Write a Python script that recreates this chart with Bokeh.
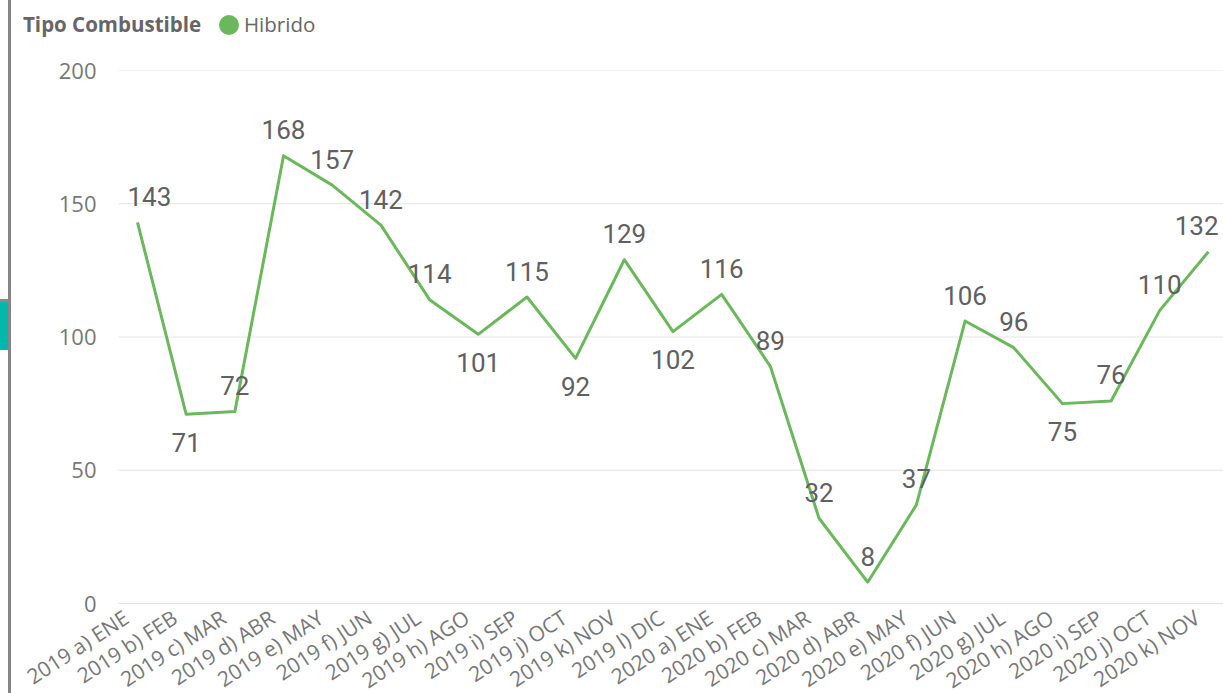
import math
from bokeh.plotting import figure
from bokeh.models import Range1d, FixedTicker, ColumnDataSource, Div
from bokeh.layouts import column, row
from bokeh.embed import file_html
from bokeh.resources import INLINE
from bokeh.core.properties import value

# ---------------- data ----------------
categories = ["2019 a) ENE", "2019 b) FEB", "2019 c) MAR", "2019 d) ABR", "2019 e) MAY",
              "2019 f) JUN", "2019 g) JUL", "2019 h) AGO", "2019 i) SEP", "2019 j) OCT",
              "2019 k) NOV", "2019 l) DIC", "2020 a) ENE", "2020 b) FEB", "2020 c) MAR",
              "2020 d) ABR", "2020 e) MAY", "2020 f) JUN", "2020 g) JUL", "2020 h) AGO",
              "2020 i) SEP", "2020 j) OCT", "2020 k) NOV"]
hibrido = [143, 71, 72, 168, 157, 142, 114, 101, 115, 92, 129, 102, 116, 89, 32, 8, 37,
           106, 96, 75, 76, 110, 132]
y_ticks = [0, 50, 100, 150, 200]
series_name = "Hibrido"
legend_title = "Tipo Combustible"

# ---------------- layout constants ----------------
PAGE_W, PAGE_H = 1223, 693
SIDE_W = 12           # left decoration strip
LEG_H = 45            # legend strip height
W = PAGE_W - SIDE_W
H = PAGE_H - LEG_H
FRAME_TOP = 25
FRAME_H = H - FRAME_TOP
PX_X = 48.68          # px per category step
FIRST_OFF = 125       # px from canvas left to first point
GRID_LEFT = 106       # px from canvas left where grid lines start
YLABEL_RIGHT = 84     # px from canvas left where y labels end
PX_Y = 2.665          # px per value unit
ZERO_FROM_BOTTOM = 90 # px between the zero line and the canvas bottom

x_start = -FIRST_OFF / PX_X
x_end = x_start + W / PX_X
y_start = -ZERO_FROM_BOTTOM / PX_Y
y_end = y_start + FRAME_H / PX_Y
grid_x0 = x_start + GRID_LEFT / PX_X

GREEN = "#6bb85c"
TXT = "#777777"
LBL = "#606060"

p = figure(width=W, height=H, output_backend="svg", toolbar_location=None,
           x_range=Range1d(x_start, x_end), y_range=Range1d(y_start, y_end),
           min_border_left=0, min_border_right=0, min_border_top=FRAME_TOP,
           min_border_bottom=0)
p.outline_line_color = None
p.background_fill_color = "white"
p.border_fill_color = "white"

xs = list(range(len(categories)))

# y axis: labels drawn inside the canvas area, to the left of the grid
p.yaxis.ticker = FixedTicker(ticks=y_ticks)
p.yaxis.axis_line_color = None
p.yaxis.major_tick_line_color = None
p.yaxis.minor_tick_line_color = None
p.yaxis.major_tick_out = 0
p.yaxis.major_tick_in = 0
p.yaxis.major_label_standoff = -YLABEL_RIGHT
p.yaxis.major_label_text_font = "Open Sans"
p.yaxis.major_label_text_font_size = "22px"
p.yaxis.major_label_text_color = TXT
p.ygrid.grid_line_color = None
p.xgrid.grid_line_color = None
p.segment(x0=[grid_x0] * len(y_ticks), x1=[x_end] * len(y_ticks), y0=y_ticks, y1=y_ticks,
          line_color="#e3e3e3", line_width=1)

# x axis: category labels drawn rotated under each point
p.xaxis.visible = False
cat_src = ColumnDataSource(dict(x=xs, y=[0] * len(xs), t=categories))
p.text(x="x", y="y", text="t", source=cat_src, angle=math.radians(33),
       text_align="right", text_baseline="top", x_offset=-19, y_offset=0,
       text_font=value("Open Sans"), text_font_size="21px", text_color=TXT)

# line
p.line(xs, hibrido, line_color=GREEN, line_width=3, line_join="round")

# data labels (above, or below for local minima)
labels = [str(v) for v in hibrido]
y_off, x_off = [], []
n = len(hibrido)
for i, v in enumerate(hibrido):
    left = hibrido[i - 1] if i > 0 else math.inf
    right = hibrido[i + 1] if i < n - 1 else math.inf
    below = v < left and v < right and v >= 50
    y_off.append(28 if below else -26)
    half = len(labels[i]) * 14.6 / 2
    px = FIRST_OFF + i * PX_X
    off = 0
    if px - half < GRID_LEFT + 9:
        off = GRID_LEFT + 9 - (px - half)
    if px + half > W - 5:
        off = (W - 5) - (px + half)
    x_off.append(off)

src = ColumnDataSource(dict(x=xs, y=hibrido, t=labels, xo=x_off, yo=y_off))
p.text(x="x", y="y", text="t", x_offset="xo", y_offset="yo", source=src,
       text_align="center", text_baseline="alphabetic",
       text_font=value("Roboto"), text_font_size="26px", text_color=LBL)

# legend strip (HTML)
legend_html = (
    '<div style="position:relative;width:%dpx;height:%dpx;font-family:\'Open Sans\';'
    'font-size:20.5px;line-height:24px;color:#666666;white-space:nowrap;">'
    '<span style="position:absolute;left:%dpx;top:12px;font-weight:bold;">%s</span>'
    '<span style="position:absolute;left:%dpx;top:15px;width:20px;height:20px;'
    'border-radius:50%%;background:%s;"></span>'
    '<span style="position:absolute;left:%dpx;top:12px;">%s</span>'
    '</div>'
) % (W, LEG_H, 23 - SIDE_W, legend_title, 219 - SIDE_W, GREEN, 244 - SIDE_W, series_name)
legend_div = Div(text=legend_html, width=W, height=LEG_H, margin=0)

# left decoration strip (report frame edge)
side_html = (
    '<div style="position:relative;width:%dpx;height:%dpx;">'
    '<div style="position:absolute;left:8px;top:0;width:3px;height:%dpx;background:#858585;"></div>'
    '<div style="position:absolute;left:0;top:299px;width:9px;height:3px;background:#8a8a8a;"></div>'
    '<div style="position:absolute;left:0;top:302px;width:8px;height:48px;background:#01b8aa;"></div>'
    '</div>'
) % (SIDE_W, PAGE_H, PAGE_H)
side_div = Div(text=side_html, width=SIDE_W, height=PAGE_H, margin=0)

layout = row(side_div, column(legend_div, p, spacing=0), spacing=0)

open("out.html", "w").write(file_html(layout, INLINE))
